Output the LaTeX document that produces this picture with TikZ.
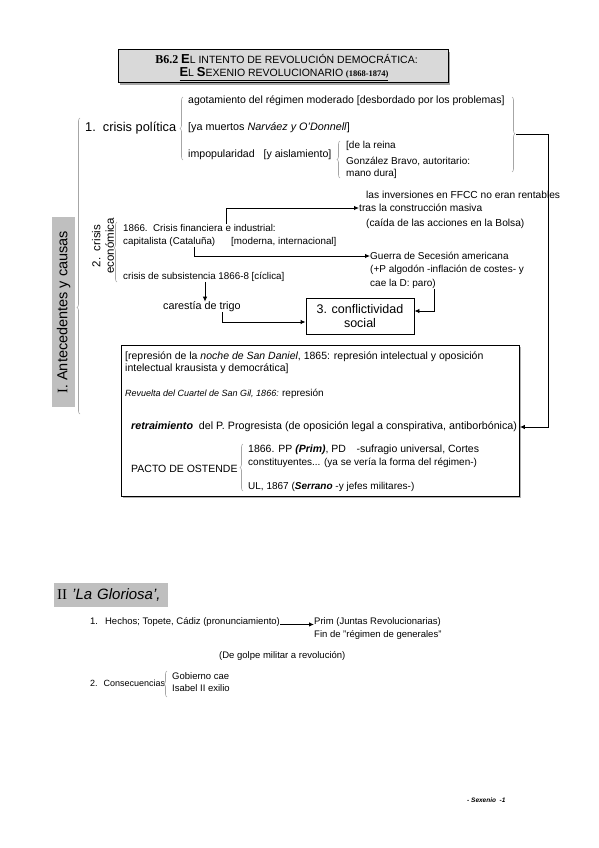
\documentclass[tikz,border=0pt]{standalone}
\usepackage{fontspec}
\setmainfont{Liberation Sans}
\newfontfamily\serifF{Liberation Serif}
\usetikzlibrary{arrows.meta,decorations.pathreplacing}
\newcommand\fsc[1]{{\fontsize{10.5}{12}\selectfont #1}}
\newcommand\fz[1]{\fontsize{#1}{#1}\selectfont}
\begin{document}
\begin{tikzpicture}[x=1pt,y=-1pt,
  t/.style={anchor=west,inner sep=0pt,font=\fz{10}},
  arr/.style={line width=0.9pt,-{Latex[length=5pt,width=4.5pt]}},
  ln/.style={line width=0.9pt},
  brc/.style={gray!70,line width=0.6pt,decorate,decoration={brace,amplitude=3pt,#1}},
  brc/.default={aspect=0.5},
  label/.style={fill=gray!50,inner sep=0pt}]
\useasboundingbox (0,0) rectangle (599,848);

% title
\fill[gray!70] (120,52) rectangle (450,85);
\node (titlebox) [draw,line width=1pt,fill=gray!30,minimum width=330pt,minimum height=33pt,inner sep=0pt] at (283,66) {};
\node (tt1) [inner sep=0pt] at (285,59) {{\serifF\bfseries\fz{12} B6.2} {\bfseries\fz{13}E}\fsc{L INTENTO DE REVOLUCIÓN DEMOCRÁTICA:}};
\node (tt2) [inner sep=0pt] at (284,74) {\underline{{\bfseries\fz{13}E}\fsc{L} {\bfseries\fz{13}S}\fsc{EXENIO REVOLUCIONARIO} {\serifF\bfseries\fz{8.5}(1868-1874)}}};

% section I label and big bracket
\node (lab1) [label,rotate=90,minimum width=190pt,minimum height=23pt,font=\fz{14.5}] at (63.5,312) {{\serifF I.} Antecedentes y causas};
\coordinate (bigtop) at (80,118);
\coordinate (bigbot) at (80,414);
\draw[brc={aspect=0.36}] (bigbot) -- (bigtop);

% 1. crisis politica
\node[t,font=\fz{12.8}] (p1) at (85,128) {1.\ \ crisis política};
\draw[brc={aspect=0.5}] (183,160) -- (183,97);
\node[t,font=\fz{10.5}] (a1) at (188,101) {agotamiento del régimen moderado [desbordado por los problemas]};
\node[t,font=\fz{10.8}] (a2) at (188,128) {[ya muertos \textit{Narváez y O'Donnell}]};
\node[t,font=\fz{10.6}] (a3) at (188,155) {impopularidad\ \ \ [y aislamiento]};
\draw[brc] (340,178) -- (340,141);
\node[t] (r1) at (346,146) {[de la reina};
\node[t] (r2) at (346,161) {González Bravo, autoritario:};
\node[t] (r3) at (346,174) {mano dura]};
\draw[brc={aspect=0.49}] (512,97) -- (512,172);
\coordinate (rtip) at (516,134);
\coordinate (rcorner) at (548,134);

% 2. crisis economica
\node (p2) [inner sep=0pt,rotate=90,align=center,font=\fontsize{11.5}{13.5}\selectfont] at (103,246) {2.\ \ crisis\\económica};
\draw[brc={aspect=0.57}] (117,282) -- (117,222);
\node[t,font=\fz{9.8}] (e1) at (123,228) {1866.\ \ Crisis financiera e industrial:};
\node[t,font=\fz{9.8}] (e2) at (123,242) {capitalista (Cataluña)\hspace{16pt}[moderna, internacional]};
\node[t,font=\fz{9.8}] (e3) at (123,277) {crisis de subsistencia 1866-8 [cíclica]};
\node[t,font=\fz{10.2}] (f1) at (366,195) {las inversiones en FFCC no eran rentables};
\node[t,font=\fz{10.2}] (f2) at (359,208) {tras la construcción masiva};
\node[t,font=\fz{10.2}] (f3) at (366,224) {(caída de las acciones en la Bolsa)};
\node[t] (g1) at (370,256) {Guerra de Secesión americana};
\node[t] (g2) at (370,270) {(+P algodón -inflación de costes- y};
\node[t] (g3) at (370,284) {cae la D: paro)};
\node[t,font=\fz{10.8}] (car) at (163,307) {carestía de trigo};
\node (conf) [draw,line width=0.9pt,minimum width=108pt,minimum height=36pt,inner sep=0pt,align=center,font=\fontsize{12.5}{14}\selectfont] at (360,316) {3. conflictividad\\social};

\coordinate (k1) at (226,0);
\coordinate (k2) at (194,0);
\coordinate (k3) at (434,0);
\coordinate (k4) at (205,0);
\coordinate (k5) at (222,0);
\draw[arr] (e1.north -| k1) |- (f2.west);
\draw[arr] (e2.south -| k2) |- (g1.west);
\draw[arr] (g3.south -| k3) |- ([yshift=5pt]conf.east);
\draw[arr] (e3.south -| k4) -- (car.north -| k4);
\draw[arr] (car.south -| k5) |- ([yshift=-6pt]conf.west);

% big box
\fill[gray!60] (123,347) rectangle (521,498);
\node (box) [draw,line width=0.9pt,fill=white,minimum width=398pt,minimum height=151pt,inner sep=0pt,anchor=north west] at (121,345) {};
\node[t,font=\fz{10.5}] (b1) at (125,357) {[represión de la \textit{noche de San Daniel}, 1865: represión intelectual y oposición};
\node[t,font=\fz{10.5}] (b2) at (125,369) {intelectual krausista y democrática]};
\node[t,font=\fz{9}] (b3) at (125,394) {\textit{Revuelta del Cuartel de San Gil, 1866:} {\fz{10}represión}};
\node[t,font=\fz{10.7}] (retr) at (131,427) {\textbf{\textit{retraimiento}}\ \ del P. Progresista (de oposición legal a conspirativa, antiborbónica)};
\node[t,font=\fz{10.5}] (pacto) at (131,469) {PACTO DE OSTENDE};
\draw[brc] (243,491) -- (243,444);
\node[t,font=\fz{10.5}] (o1) at (248,450) {1866. PP \textbf{\textit{(Prim)}}, PD\quad -sufragio universal, Cortes};
\node[t] (o2) at (248,463) {constituyentes... (ya se vería la forma del régimen-)};
\node[t] (o3) at (248,487) {UL, 1867 (\textbf{\textit{Serrano}} -y jefes militares-)};
\draw[ln] (rtip) -- (rcorner);
\draw[arr] (rcorner) |- (box.east |- retr);

% section II
\node (lab2) [label,anchor=west,minimum height=24pt,text width=108pt,inner xsep=3pt,font=\fz{15}] at (54,595) {{\serifF II} \textit{'La Gloriosa',}};
\node[t,font=\fz{9.5}] (h1) at (90,622) {1.\hspace{7pt}Hechos; Topete, Cádiz (pronunciamiento)};
\node[t,font=\fz{9.5}] (prim1) at (314,622) {Prim (Juntas Revolucionarias)};
\node[t,font=\fz{9.5}] (prim2) at (314,635) {Fin de "régimen de generales"};
\draw[arr] (h1.base east) -- (prim1.base west);
\node[t,font=\fz{9.5}] (golpe) at (219,656) {(De golpe militar a revolución)};
\node[t,font=\fz{9}] (h2) at (90,683) {2.\hspace{6pt}Consecuencias};
\draw[brc] (167,697) -- (167,671);
\node[t,font=\fz{9.5}] (cc1) at (172,676) {Gobierno cae};
\node[t,font=\fz{9.5}] (cc2) at (172,688) {Isabel II exilio};

% footer
\node[t,font=\fz{6.5}\bfseries\itshape] (foot) at (467,800) {- Sexenio\ \ -1};
\end{tikzpicture}
\end{document}
